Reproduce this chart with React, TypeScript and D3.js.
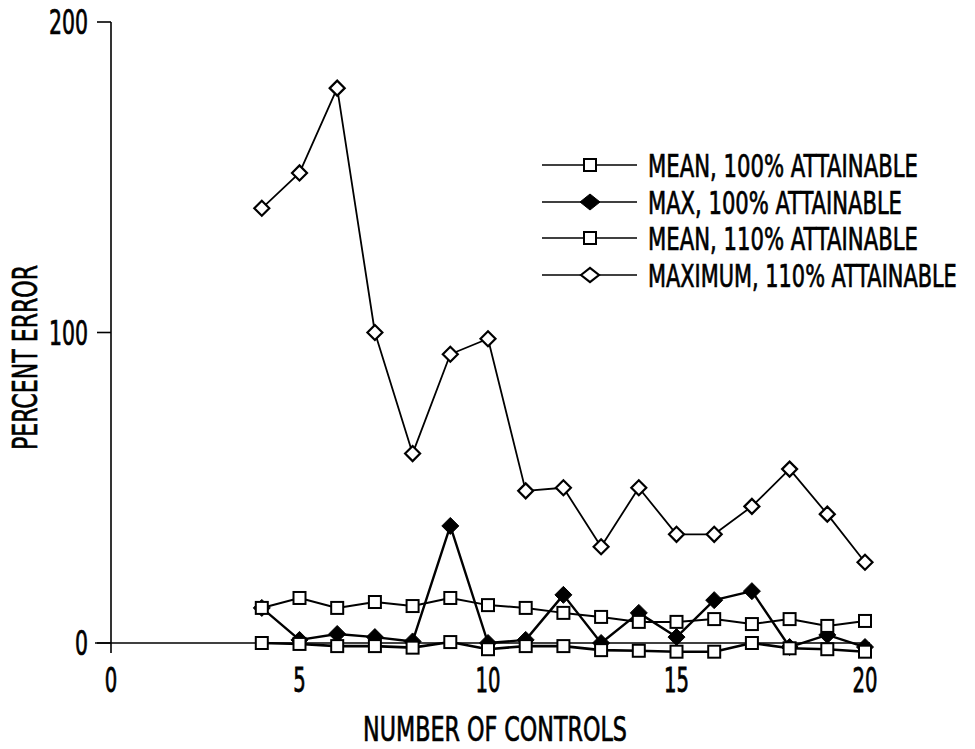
import React, { useLayoutEffect, useRef, useState } from "react";
import * as d3 from "d3";

const controls = [4, 5, 6, 7, 8, 9, 10, 11, 12, 13, 14, 15, 16, 17, 18, 19, 20];
const mean100 = [0, -0.3, -1, -1, -1.5, 0.3, -2, -1, -1, -2.3, -2.5, -2.8, -2.8, 0, -1.7, -2, -2.8];
const max100 = [11.3, 1, 2.9, 1.9, 0.5, 37.7, 0, 1, 15.5, 0, 9.7, 1.9, 13.8, 16.7, -1.3, 2.6, -1.3];
const mean110 = [11.3, 14.5, 11.3, 13.2, 11.9, 14.5, 12.2, 11.3, 9.7, 8.4, 6.8, 6.8, 7.7, 6.1, 7.7, 5.5, 7.1];
const max110 = [140, 151.4, 178.7, 100, 61, 93, 98, 49, 50, 31, 50, 35, 35, 44, 56, 41.5, 26];

const xTicks = [0, 5, 10, 15, 20];
const yTicks = [0, 100, 200];
const legendLabels = [
  "MEAN, 100% ATTAINABLE",
  "MAX, 100% ATTAINABLE",
  "MEAN, 110% ATTAINABLE",
  "MAXIMUM, 110% ATTAINABLE",
];
const legendWidths = [270, 254, 270, 309];
const xTitle = "NUMBER OF CONTROLS";
const yTitle = "PERCENT ERROR";

const FONT = "'Liberation Sans Narrow', 'DejaVu Sans Condensed', 'Liberation Sans', sans-serif";
const CAP = 0.73;

const x = d3.scaleLinear().domain([0, 20]).range([111, 865]);
const y = d3.scaleLinear().domain([0, 200]).range([643, 22]);

type Kind = "square" | "filled" | "diamond";

function FitText({
  x: px,
  y: py,
  width,
  capH,
  anchor = "start",
  rotate = 0,
  text,
}: {
  x: number;
  y: number;
  width: number;
  capH: number;
  anchor?: "start" | "middle" | "end";
  rotate?: number;
  text: string;
}) {
  const ref = useRef<SVGTextElement>(null);
  const base = 30;
  const [fs, setFs] = useState<number | null>(null);
  useLayoutEffect(() => {
    if (ref.current && fs === null) {
      const natural = ref.current.getComputedTextLength();
      if (natural > 0) setFs((base * width) / natural);
    }
  }, [fs, width]);
  const size = fs ?? base;
  const sy = fs ? capH / (CAP * size) : 1;
  return (
    <text
      ref={ref}
      transform={`translate(${px},${py}) rotate(${rotate}) scale(1,${sy})`}
      textAnchor={anchor}
      fontSize={size}
      style={{ stroke: "#000", strokeWidth: 0.5 }}
      fill="#000"
    >
      {text}
    </text>
  );
}

function Marker({ cx, cy, kind, legend }: { cx: number; cy: number; kind: Kind; legend?: boolean }) {
  if (kind === "square") {
    const s = 12;
    return <rect x={cx - s / 2} y={cy - s / 2} width={s} height={s} fill="#fff" stroke="#000" strokeWidth={2} />;
  }
  if (kind === "filled") {
    const hx = legend ? 10 : 8.5;
    const hy = legend ? 8 : 8.5;
    return <path d={`M${cx - hx},${cy}L${cx},${cy - hy}L${cx + hx},${cy}L${cx},${cy + hy}Z`} fill="#000" stroke="#000" strokeWidth={1} />;
  }
  const hx = legend ? 9 : 7.5;
  const hy = legend ? 7 : 7.5;
  return <path d={`M${cx - hx},${cy}L${cx},${cy - hy}L${cx + hx},${cy}L${cx},${cy + hy}Z`} fill="#fff" stroke="#000" strokeWidth={2.2} />;
}

const series: { values: number[]; kind: Kind; width: number }[] = [
  { values: max110, kind: "diamond", width: 1.8 },
  { values: max100, kind: "filled", width: 2.4 },
  { values: mean100, kind: "square", width: 2.6 },
  { values: mean110, kind: "square", width: 2 },
];

export default function App() {
  const line = d3
    .line<number>()
    .x((_, i) => x(controls[i]))
    .y((v) => y(v));

  const legendKinds: Kind[] = ["square", "filled", "square", "diamond"];
  const legendRows = [165, 202, 238, 275];

  return (
    <svg
      width={975}
      height={749}
      style={{ position: "absolute", left: 0, top: 0, display: "block", background: "#fff" }}
      fontFamily={FONT}
    >
      <rect x={0} y={0} width={975} height={749} fill="#fff" />
      {/* axes */}
      <line x1={111} x2={111} y1={y(200)} y2={653} stroke="#000" strokeWidth={1.6} />
      <line x1={95} x2={870} y1={y(0)} y2={y(0)} stroke="#000" strokeWidth={1.6} />
      {yTicks.map((t) => (
        <g key={t}>
          <line x1={97} x2={111} y1={y(t)} y2={y(t)} stroke="#000" strokeWidth={1.6} />
          <FitText x={88} y={y(t) + 12} anchor="end" width={String(t).length * 13} capH={24} text={String(t)} />
        </g>
      ))}
      {xTicks.map((t) => (
        <FitText key={t} x={x(t)} y={692} anchor="middle" width={String(t).length * 12.5} capH={24} text={String(t)} />
      ))}
      <FitText x={495} y={741} anchor="middle" width={264} capH={25} text={xTitle} />
      <FitText x={37} y={357.5} anchor="middle" rotate={-90} width={185} capH={24} text={yTitle} />

      {/* series lines */}
      {series.map((s, si) => (
        <path key={si} d={line(s.values) || ""} fill="none" stroke="#000" strokeWidth={s.width} strokeLinejoin="round" />
      ))}
      {/* markers */}
      {series.map((s, si) =>
        s.values.map((v, i) => <Marker key={`${si}-${i}`} cx={x(controls[i])} cy={y(v)} kind={s.kind} />)
      )}

      {/* legend */}
      {legendLabels.map((lab, i) => (
        <g key={lab}>
          <line x1={542} x2={637} y1={legendRows[i]} y2={legendRows[i]} stroke="#000" strokeWidth={1.6} />
          <Marker cx={590} cy={legendRows[i]} kind={legendKinds[i]} legend />
          <FitText x={648} y={legendRows[i] + 12} width={legendWidths[i]} capH={23} text={lab} />
        </g>
      ))}
    </svg>
  );
}
